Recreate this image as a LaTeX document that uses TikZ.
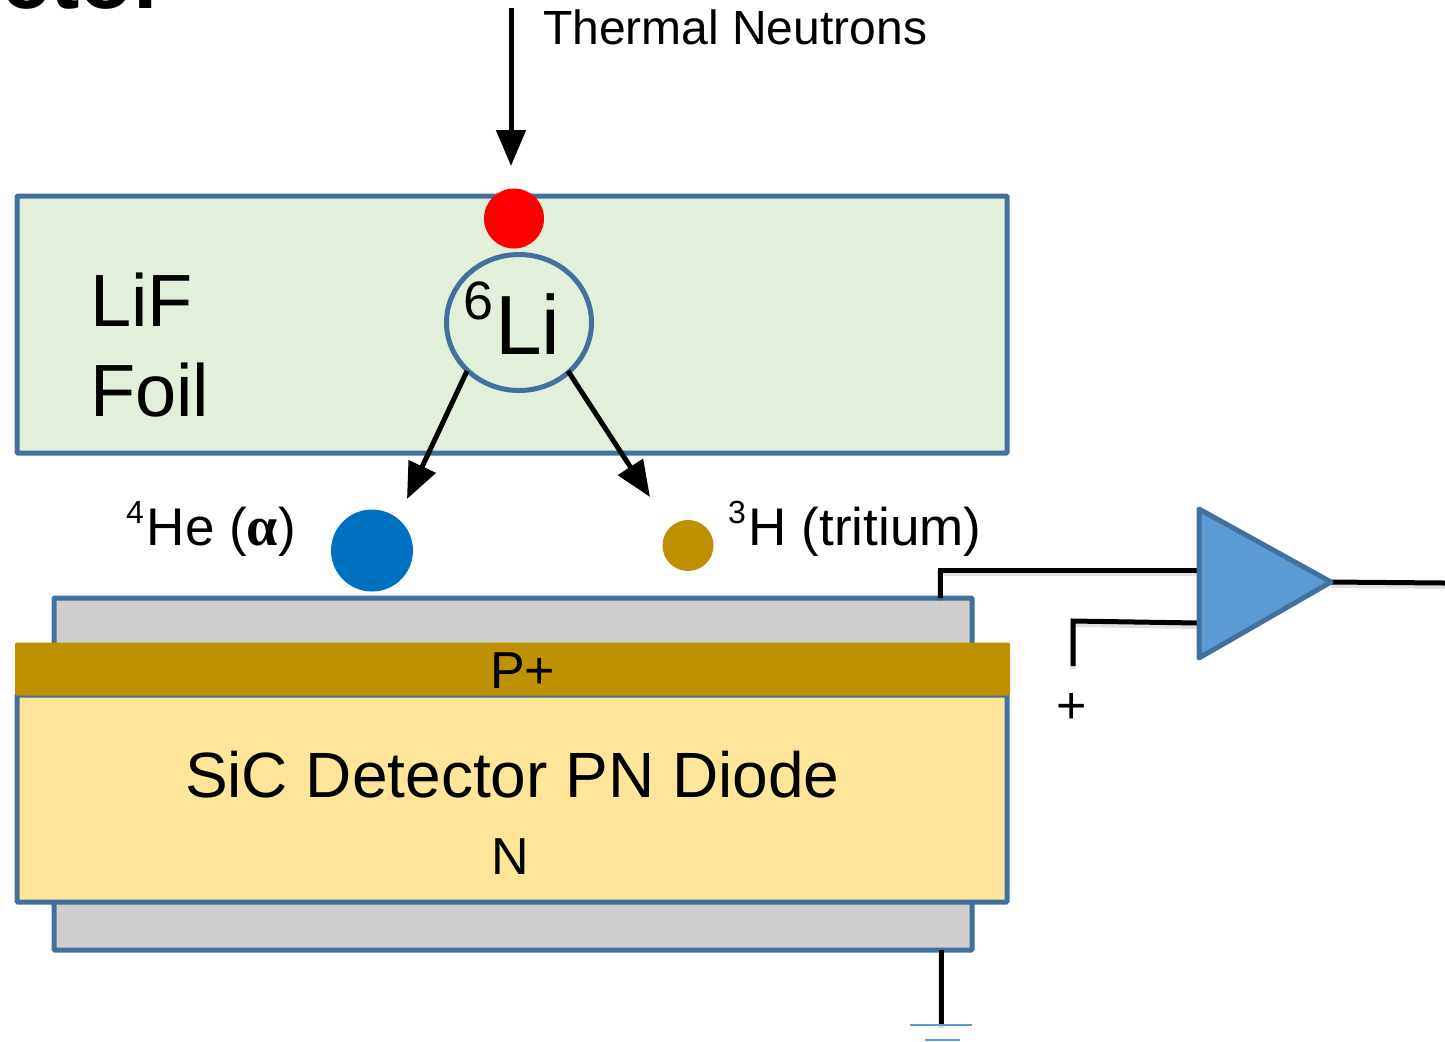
\documentclass[tikz,border=0pt]{standalone}
\usepackage{fontspec}
\setmainfont{Liberation Sans}
\newfontfamily\greekbold{Liberation Serif Bold}
\usetikzlibrary{arrows.meta,shapes.geometric}
\definecolor{edgeblue}{HTML}{41719C}
\definecolor{foilgreen}{HTML}{E2EFDA}
\definecolor{diodegray}{HTML}{D0CECE}
\definecolor{diodeyellow}{HTML}{FFE599}
\definecolor{gold}{HTML}{BF9000}
\definecolor{ampblue}{HTML}{5B9BD5}
\definecolor{alphablue}{HTML}{0070C0}
\tikzset{
  x=0.5pt,y=-0.5pt,
  panel/.style={draw=edgeblue,line width=2.5pt,rounded corners=0.5pt,inner sep=0pt,outer sep=0pt},
  particle/.style={circle,inner sep=0pt,outer sep=0pt},
  lbl/.style={anchor=base west,inner sep=0pt,outer sep=0pt,text=black},
  wire/.style={draw=black,line width=2.5pt,line join=miter,
    preaction={draw=black,opacity=.12,line width=3pt,transform canvas={yshift=-1.5pt}}},
  ray/.style={draw=black,line width=2.5pt,-{Triangle[length=18pt,width=14.5pt]}},
  ground/.style={draw=ampblue,line width=1pt},
}
\begin{document}
\begin{tikzpicture}
\useasboundingbox (0,0) rectangle (1445,1041);
\begin{scope}
\clip (0,0) rectangle (1445,1041);
\node[anchor=base east,inner sep=0pt,font=\fontsize{44}{44}\selectfont\bfseries] (title) at (168,8) {Detector};
\end{scope}
% foil
\node[panel,fill=foilgreen,minimum width=495pt,minimum height=128.5pt] (foil) at (512,324.5) {};
\node[particle,fill=red,minimum size=30pt] (neutron) at (514,218.5) {};
\node[draw=edgeblue,line width=2.5pt,fill=foilgreen,ellipse,inner sep=0pt,outer sep=0pt,minimum width=72.5pt,minimum height=68pt] (li) at (519,322.5) {};
% diode
\node[panel,fill=diodegray,minimum width=459pt,minimum height=176pt] (back) at (513,774) {};
\node[panel,fill=diodeyellow,minimum width=495pt,minimum height=103.5pt] (body) at (512,798.5) {};
\node[fill=gold,rounded corners=1pt,inner sep=0pt,outer sep=0pt,minimum width=497.5pt,minimum height=26.5pt] (pplus) at (512.5,669) {};
% particles
\node[particle,fill=alphablue,minimum size=41pt] (alpha) at (372,550.5) {};
\node[particle,fill=gold,minimum size=25.5pt] (triton) at (688,545.5) {};
% amplifier
\coordinate (ampA) at (1199,509);
\coordinate (ampB) at (1199,658);
\coordinate (ampC) at (1331,582);
% coordinates
\coordinate (nStart) at (511,8);
\coordinate (nEnd) at (511,166);
\coordinate (aStart) at (467,371);
\coordinate (aEnd) at (407,499);
\coordinate (tStart) at (568,371);
\coordinate (tEnd) at (650,497);
\coordinate (wTop) at (940,598);
\coordinate (wCorner) at (940,570);
\coordinate (wIn) at (1198,570);
\coordinate (rEnd) at (1073,666);
\coordinate (rCorner) at (1073,621);
\coordinate (rIn) at (1198,623);
\coordinate (oEnd) at (1445,583);
\coordinate (gTop) at (941,950);
\coordinate (gBot) at (941,1025);
\coordinate (g1) at (910,1025);
\coordinate (g2) at (972,1025);
\coordinate (g3) at (925,1040);
\coordinate (g4) at (960,1040);
% connectors
\draw[ray] (nStart) -- (nEnd);
\draw[ray] (aStart) -- (aEnd);
\draw[ray] (tStart) -- (tEnd);
\draw[wire] (wTop) -- (wCorner) -- (wIn);
\draw[wire] (rEnd) -- (rCorner) -- (rIn);
\draw[wire] (ampC) -- (oEnd);
\draw[wire] (gTop) -- (gBot);
\draw[ground] (g1) -- (g2);
\draw[ground] (g3) -- (g4);
\draw[draw=edgeblue,fill=ampblue,line width=2.5pt,line join=round] (ampA) -- (ampC) -- (ampB) -- cycle;
% labels
\node[lbl,font=\fontsize{24}{24}\selectfont] (tn) at (543,44) {Thermal Neutrons};
\node[lbl,font=\fontsize{37}{37}\selectfont] (lif) at (90,326) {LiF};
\node[lbl,font=\fontsize{37}{37}\selectfont] (fl) at (90,416) {Foil};
\node[lbl,font=\fontsize{42}{42}\selectfont] (lilbl) at (463,354) {\raisebox{17.5pt}{\fontsize{27}{27}\selectfont 6}\kern1pt Li};
\node[lbl,font=\fontsize{26.5}{27}\selectfont] (he) at (126,545) {\raisebox{11pt}{\fontsize{16}{16}\selectfont 4}\kern1.5pt He ({\greekbold\fontsize{28}{28}\selectfont α})};
\node[lbl,font=\fontsize{26.5}{27}\selectfont] (h3) at (728,545) {\raisebox{11pt}{\fontsize{16}{16}\selectfont 3}\kern1.5pt H (tritium)};
\node[lbl,font=\fontsize{26}{26}\selectfont] (pp) at (490,688) {P+};
\node[lbl,font=\fontsize{32}{32}\selectfont] (sic) at (185,797) {SiC Detector PN Diode};
\node[lbl,font=\fontsize{26}{26}\selectfont] (nn) at (491,874) {N};
\node[inner sep=0pt,font=\fontsize{26}{26}\selectfont] (plus) at (1072,708) {+};
\end{tikzpicture}
\end{document}
